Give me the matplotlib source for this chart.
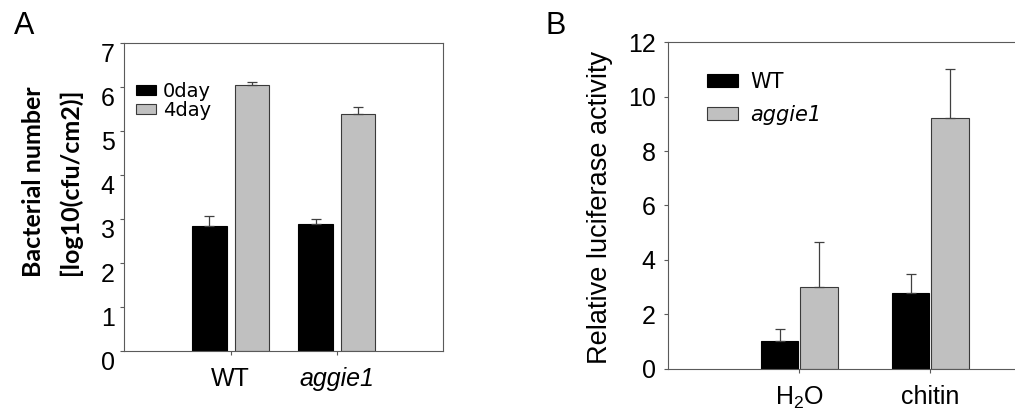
import matplotlib
matplotlib.use('Agg')
import matplotlib.pyplot as plt
from matplotlib.transforms import ScaledTranslation
import numpy as np

# ---------------- data ----------------
groups_A = ['WT', 'aggie1']
day0 = [2.84, 2.89]
day0_err = [0.23, 0.12]
day4 = [6.03, 5.38]
day4_err = [0.08, 0.15]
yticks_A = [0, 1, 2, 3, 4, 5, 6, 7]

groups_B = ['H$_2$O', 'chitin']
wt_B = [1.01, 2.79]
wt_B_err = [0.44, 0.69]
ag_B = [3.00, 9.23]
ag_B_err = [1.66, 1.79]
yticks_B = [0, 2, 4, 6, 8, 10, 12]

# ---------------- style ----------------
plt.rcParams['font.family'] = ['Liberation Sans', 'DejaVu Sans']
plt.rcParams['mathtext.fontset'] = 'custom'
plt.rcParams['mathtext.rm'] = 'Liberation Sans'
plt.rcParams['mathtext.it'] = 'Liberation Sans:italic'

spine_color = '#5a5a5a'
err_color = '#404040'
gray = '#c0c0c0'
gray_edge = '#3a3a3a'

fig = plt.figure(figsize=(10.15, 4.11), dpi=100)
axA = fig.add_axes([0.1225, 0.1453, 0.314, 0.7509])
axB = fig.add_axes([0.6584, 0.1034, 0.3873, 0.7932])

ekw = dict(ecolor=err_color, elinewidth=0.9, capsize=3.5, capthick=0.9)
shift = ScaledTranslation(5 / 100, 0, fig.dpi_scale_trans)

# ---------------- panel A ----------------
xA = np.arange(len(groups_A))
axA.bar(xA - 0.2, day0, 0.33, color='black', edgecolor='black', lw=0.8,
        label='0day', yerr=[np.zeros(len(day0)), day0_err], error_kw=ekw)
axA.bar(xA + 0.2, day4, 0.32, color=gray, edgecolor=gray_edge, lw=0.8,
        label='4day', yerr=[np.zeros(len(day4)), day4_err], error_kw=ekw)
axA.set_xlim(-1, 2)
axA.set_ylim(0, 7)
axA.set_yticks(yticks_A)
axA.set_yticklabels([str(v) for v in yticks_A], va='top', fontsize=18)
axA.set_xticks(xA)
axA.set_xticklabels(groups_A, fontsize=18)
axA.get_xticklabels()[1].set_style('italic')
for lab in axA.get_xticklabels():
    lab.set_transform(lab.get_transform() + shift)
for s in axA.spines.values():
    s.set_color(spine_color)
    s.set_linewidth(0.8)
axA.tick_params(axis='both', direction='out', length=3, width=0.8,
                color=spine_color)
axA.tick_params(axis='y', pad=4)
axA.tick_params(axis='x', pad=8)
legA = axA.legend(loc='upper left', bbox_to_anchor=(0.037, 0.872),
                  frameon=False, prop={'family': 'DejaVu Sans', 'size': 14},
                  borderpad=0, borderaxespad=0,
                  handlelength=1.03, handleheight=0.44, handletextpad=0.36,
                  labelspacing=0.0)

# ---------------- panel B ----------------
xB = np.arange(len(groups_B))
axB.bar(xB - 0.15, wt_B, 0.287, color='black', edgecolor='black', lw=0.8,
        label='WT', yerr=[np.zeros(len(wt_B)), wt_B_err], error_kw=ekw)
axB.bar(xB + 0.15, ag_B, 0.287, color=gray, edgecolor=gray_edge, lw=0.8,
        label='aggie1', yerr=[np.zeros(len(ag_B)), ag_B_err], error_kw=ekw)
axB.set_xlim(-1, 2)
axB.set_ylim(0, 12)
axB.set_yticks(yticks_B)
axB.set_yticklabels([str(v) for v in yticks_B], fontsize=18)
axB.set_xticks(xB)
axB.set_xticklabels(groups_B, fontsize=18)
for lab in axB.get_xticklabels():
    lab.set_transform(lab.get_transform() + shift)
for s in axB.spines.values():
    s.set_color(spine_color)
    s.set_linewidth(0.8)
axB.tick_params(axis='both', direction='out', length=3, width=0.8,
                color=spine_color)
axB.tick_params(axis='y', pad=6)
axB.tick_params(axis='x', pad=9)
legB = axB.legend(loc='upper left', bbox_to_anchor=(0.098, 0.91),
                  frameon=False, prop={'family': 'DejaVu Sans', 'size': 15},
                  borderpad=0, borderaxespad=0,
                  handlelength=1.49, handleheight=0.53, handletextpad=0.58,
                  labelspacing=0.62)
legB.get_texts()[1].set_style('italic')

# ---------------- labels ----------------
fig.text(34 / 1015, 1 - 182 / 411, 'Bacterial number', rotation=90,
         ha='center', va='center', family=['Lato', 'DejaVu Sans'],
         fontweight='bold', fontsize=18)
fig.text(70 / 1015, 1 - 182 / 411, '[log10(cfu/cm2)]', rotation=90,
         ha='center', va='center', family=['Lato', 'DejaVu Sans'],
         fontweight='bold', fontsize=18)
fig.text(600 / 1015, 1 - 207.5 / 411, 'Relative luciferase activity',
         rotation=90, ha='center', va='center', fontsize=19.5)
fig.text(24 / 1015, 1 - 26 / 411, 'A', fontsize=22, ha='center', va='center')
fig.text(556 / 1015, 1 - 26 / 411, 'B', fontsize=22, ha='center', va='center')

fig.savefig('out.png', dpi=100)
